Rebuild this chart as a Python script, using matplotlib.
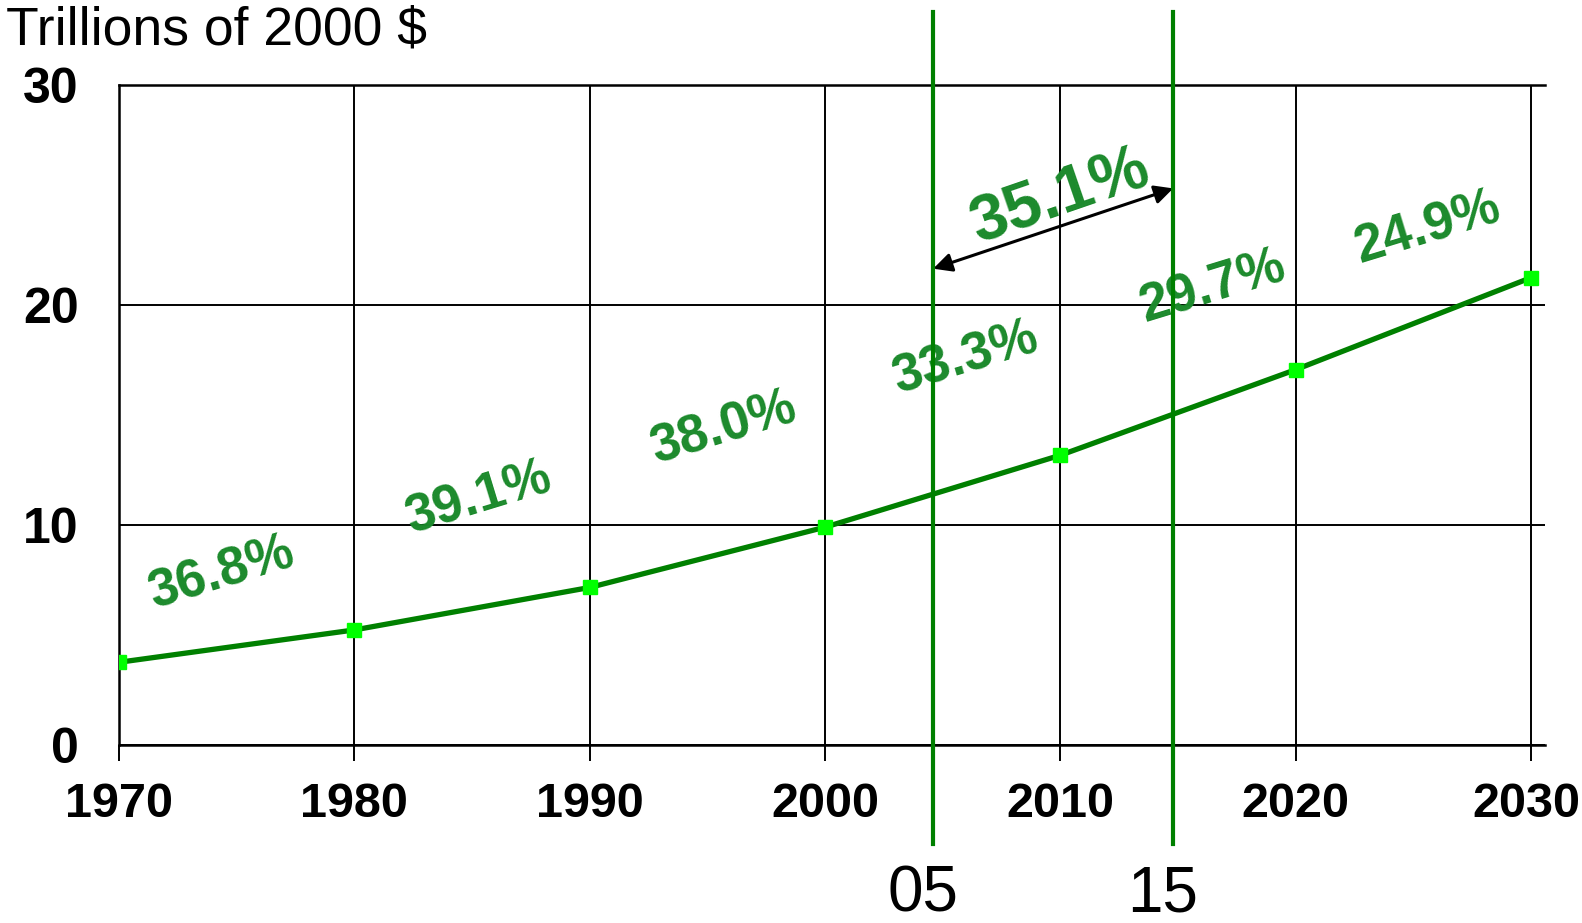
import matplotlib
matplotlib.use("Agg")
import matplotlib.pyplot as plt
import matplotlib.transforms as mtransforms

# data
years = [1970, 1980, 1990, 2000, 2010, 2020, 2030]
gdp = [3.76, 5.23, 7.16, 9.9, 13.17, 17.06, 21.24]

# share labels per decade interval (text, x, y)
share_labels = ["36.8%", "39.1%", "38.0%", "33.3%", "29.7%", "24.9%"]
share_x = [1974.4, 1985.3, 1995.7, 2006.0, 2016.45, 2025.6]
share_y = [7.8, 11.2, 14.4, 17.6, 20.8, 23.5]

# 2005-2015 window
window_years = [2004.6, 2014.8]
window_labels = ["05", "15"]
window_share = "35.1%"

plt.rcParams['font.family'] = ['Liberation Sans', 'DejaVu Sans']

fig = plt.figure(figsize=(15.82, 9.23), dpi=100)
ax = fig.add_axes([119 / 1582, 178 / 923, 1426 / 1582, 660 / 923])

line_green = "#008000"
text_green = "#1c8a2c"

ax.plot(years, gdp, color=line_green, lw=3.8, marker="s", ms=9.5,
        mfc="#00ff00", mec="#00ff00", zorder=6)

ax.set_xlim(1970, 2030.6)
ax.set_ylim(0, 30)
ax.set_xticks(years)
ax.set_yticks([0, 10, 20, 30])
ax.tick_params(axis="x", length=11.5, width=1.4, direction="out", pad=15,
               labelsize=35)
ax.tick_params(axis="y", length=0, pad=29, labelsize=36)
for lab in ax.get_xticklabels() + ax.get_yticklabels():
    lab.set_fontweight("bold")

# keep the last year label inside the canvas
last = ax.get_xticklabels()[-1]
last.set_transform(last.get_transform() +
                   mtransforms.ScaledTranslation(-5 / 100, 0, fig.dpi_scale_trans))

ax.grid(True, color="black", lw=1.4)
ax.set_axisbelow(True)
ax.spines["right"].set_visible(False)
for s in ["left", "top", "bottom"]:
    ax.spines[s].set_linewidth(1.8)

# percentage labels
for t, x, y in zip(share_labels, share_x, share_y):
    ax.text(x, y, t, color=text_green, fontsize=38, fontweight="bold",
            rotation=17, ha="center", va="center", rotation_mode="anchor",
            zorder=3)

# vertical window markers
for wx, wl in zip(window_years, window_labels):
    ax.plot([wx, wx], [-4.5, 33.3], color=line_green, lw=3,
            clip_on=False, zorder=5)
    ax.text(wx - 0.45, -7.55, wl, fontsize=46, ha="center", va="baseline",
            clip_on=False)

ax.annotate("", xy=(window_years[0], 21.65), xytext=(window_years[1], 25.3),
            arrowprops=dict(arrowstyle="<|-|>", color="black", lw=2.2,
                            mutation_scale=28, shrinkA=0, shrinkB=0),
            zorder=4)
ax.text(2010.0, 24.9, window_share, color=text_green, fontsize=47,
        fontweight="bold", rotation=19, ha="center", va="center",
        rotation_mode="anchor", zorder=3)

fig.text(0.004, 1 - 44 / 923, "Trillions of 2000 $", fontsize=38.5,
         va="baseline", ha="left")

fig.savefig("out.png", dpi=100)
